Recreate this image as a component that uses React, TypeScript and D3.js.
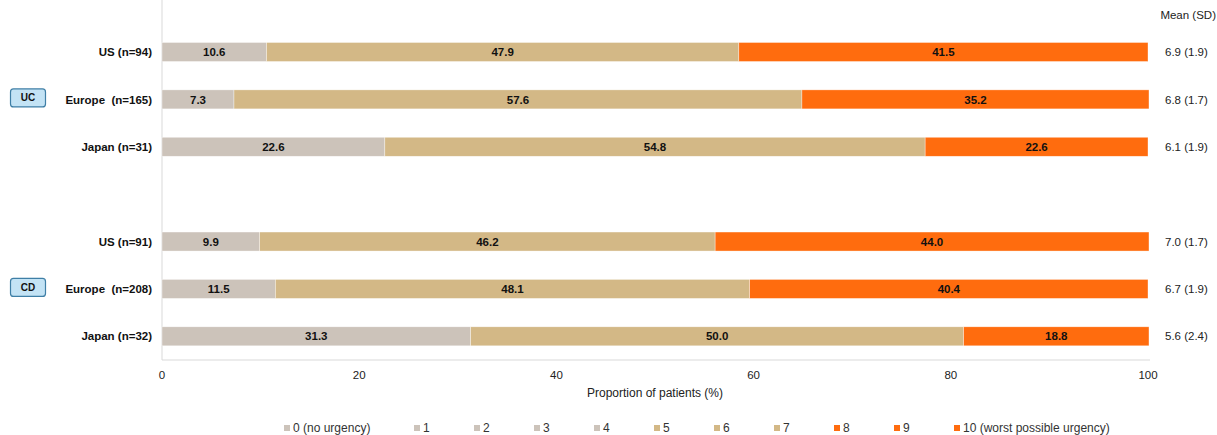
import React from "react";
import * as d3 from "d3";

const rowLabels = ["US (n=94)", "Europe  (n=165)", "Japan (n=31)", "", "US (n=91)", "Europe  (n=208)", "Japan (n=32)"];
const rowKeys = ["uc-us", "uc-eu", "uc-jp", "gap", "cd-us", "cd-eu", "cd-jp"];
const lowValues = [10.6, 7.3, 22.6, 0, 9.9, 11.5, 31.3];   // 0–4
const midValues = [47.9, 57.6, 54.8, 0, 46.2, 48.1, 50.0]; // 5–7
const highValues = [41.5, 35.2, 22.6, 0, 44.0, 40.4, 18.8]; // 8–10
const meanSD = ["6.9 (1.9)", "6.8 (1.7)", "6.1 (1.9)", "", "7.0 (1.7)", "6.7 (1.9)", "5.6 (2.4)"];
const groups = [{ name: "UC", rows: ["uc-us", "uc-eu", "uc-jp"] }, { name: "CD", rows: ["cd-us", "cd-eu", "cd-jp"] }];
const xTicks = [0, 20, 40, 60, 80, 100];
const legendLabels = ["0 (no urgency)", "1", "2", "3", "4", "5", "6", "7", "8", "9", "10 (worst possible urgency)"];
const legendGroup = [0, 0, 0, 0, 0, 1, 1, 1, 2, 2, 2];

const COLORS = ["#CCC3BA", "#D3B886", "#FF6C0E"];
const FONT = "'Liberation Sans', Arial, sans-serif";

export default function App() {
  const W = 1217, H = 435;
  const x = d3.scaleLinear().domain([0, 100]).range([162, 1148]);
  const y = d3.scaleBand().domain(rowKeys).range([28.3, 360]).paddingInner(0.6).paddingOuter(0.3);
  const bh = 19;
  const series = [lowValues, midValues, highValues];

  const rows = rowKeys.map((k, i) => {
    if (k === "gap") return null;
    const cy = (y(k) as number) + y.bandwidth() / 2;
    let acc = 0;
    const segs = series.map((s, j) => {
      const x0 = acc;
      acc += s[i];
      return { x0, x1: acc, v: s[i], c: COLORS[j] };
    });
    return (
      <g key={k}>
        {segs.map((sg, j) => (
          <rect key={j} x={x(sg.x0)} y={cy - bh / 2} width={x(sg.x1) - x(sg.x0)} height={bh} fill={sg.c} stroke="#ffffff" strokeOpacity={0.6} strokeWidth={0.6} />
        ))}
        {segs.map((sg, j) => (
          <text key={"t" + j} x={(x(sg.x0) + x(sg.x1)) / 2} y={cy} dy="0.36em" textAnchor="middle" fontSize={11.5} fontWeight="bold" fill="#111">
            {sg.v.toFixed(1)}
          </text>
        ))}
        <text x={152} y={cy} dy="0.36em" textAnchor="end" fontSize={11.5} fontWeight="bold" fill="#111" style={{ whiteSpace: "pre" }}>
          {rowLabels[i]}
        </text>
        <text x={1165} y={cy} dy="0.36em" fontSize={11.5} fill="#222">{meanSD[i]}</text>
      </g>
    );
  });

  const legendX = (i: number) => (i === 0 ? 287 : 417 + 60 * (i - 1));

  return (
    <svg width={W} height={H} style={{ position: "absolute", left: 0, top: 0, fontFamily: FONT }}>
      <rect width={W} height={H} fill="#fff" />
      <line x1={162} x2={162} y1={0} y2={360} stroke="#D9D9D9" />
      <line x1={162} x2={1150} y1={360} y2={360} stroke="#D9D9D9" />
      {rows}
      {groups.map((g) => {
        const mid = g.rows[1];
        const cy = (y(mid) as number) + y.bandwidth() / 2 - 1.5;
        return (
          <g key={g.name}>
            <rect x={10.5} y={cy - 9} width={35} height={18} rx={3} fill="#C3E3F5" stroke="#3F7FA6" strokeWidth={1.2} />
            <text x={28} y={cy} dy="0.36em" textAnchor="middle" fontSize={10} fontWeight="bold" fill="#111">{g.name}</text>
          </g>
        );
      })}
      <text x={1216} y={19} textAnchor="end" fontSize={11.5} fill="#222">Mean (SD)</text>
      {xTicks.map((t) => (
        <text key={t} x={x(t)} y={379} textAnchor="middle" fontSize={11.5} fill="#222">{t}</text>
      ))}
      <text x={x(50)} y={397} textAnchor="middle" fontSize={12} fill="#222">Proportion of patients (%)</text>
      {legendLabels.map((l, i) => (
        <g key={l}>
          <rect x={legendX(i) - 3} y={425} width={6} height={6} fill={COLORS[legendGroup[i]]} />
          <text x={legendX(i) + 6} y={428} dy="0.36em" fontSize={12} fill="#333">{l}</text>
        </g>
      ))}
    </svg>
  );
}
